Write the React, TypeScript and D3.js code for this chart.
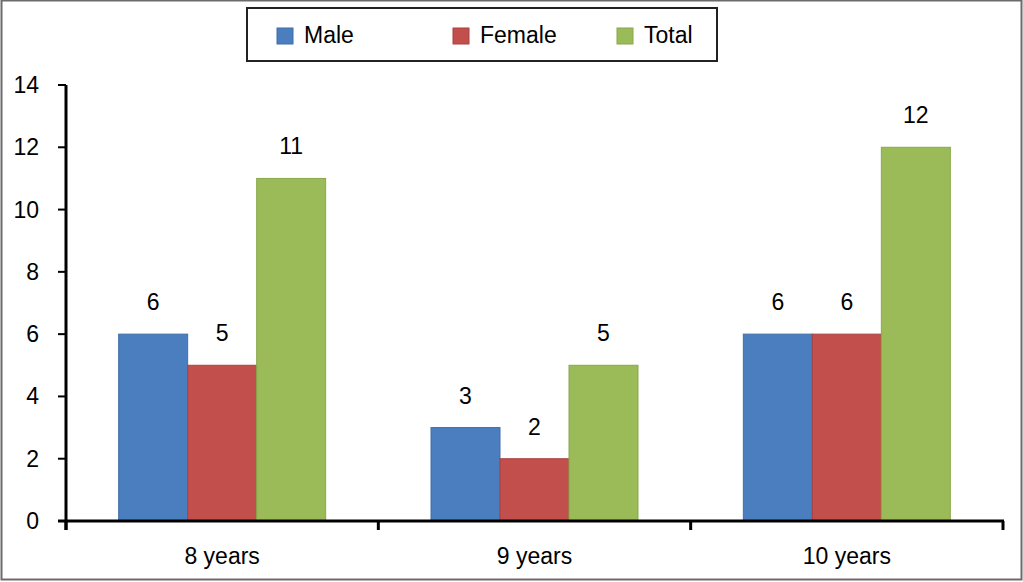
import React from "react"
import * as d3 from "d3"

const categories = ["8 years", "9 years", "10 years"]
const seriesNames = ["Male", "Female", "Total"]
const maleValues = [6, 3, 6]
const femaleValues = [5, 2, 6]
const totalValues = [11, 5, 12]
const yTicks = [0, 2, 4, 6, 8, 10, 12, 14]

const colors: Record<string, string> = {
  Male: "#4a7ebf",
  Female: "#c24f4c",
  Total: "#9bbb59",
}
const strokes: Record<string, string> = {
  Male: "#3f6fa9",
  Female: "#a8433f",
  Total: "#89a84c",
}

const W = 1023
const H = 582
const FONT = "'Liberation Sans', Arial, Helvetica, sans-serif"

const App: React.FC = () => {
  const left = 66
  const right = 1003
  const top = 85
  const bottom = 521

  const x = d3.scaleBand<string>().domain(categories).range([left, right])
  const inner = d3.scaleBand<string>().domain(seriesNames).range([0, 207])
  const y = d3.scaleLinear().domain([0, 14]).range([bottom, top])

  const valuesBySeries: Record<string, number[]> = {
    Male: maleValues,
    Female: femaleValues,
    Total: totalValues,
  }

  const groupOffset = (x.bandwidth() - 207) / 2

  // legend layout
  const legendItems = [
    { name: "Male", x: 277 },
    { name: "Female", x: 453 },
    { name: "Total", x: 617 },
  ]

  return (
    <svg
      width={W}
      height={H}
      style={{ position: "absolute", left: 0, top: 0, display: "block", background: "#fff" }}
      fontFamily={FONT}
    >
      {/* outer frame */}
      <rect x={1.5} y={0.5} width={W - 3} height={H - 3} fill="none" stroke="#6b6b6b" strokeWidth={2} />

      {/* legend */}
      <rect x={247} y={8} width={470} height={53} fill="#fff" stroke="#222" strokeWidth={2} />
      {legendItems.map((d) => (
        <g key={d.name}>
          <rect x={d.x} y={28} width={16} height={16} fill={colors[d.name]} stroke={strokes[d.name]} strokeWidth={1} />
          <text x={d.x + 27} y={43} fontSize={23} fill="#000">
            {d.name}
          </text>
        </g>
      ))}

      {/* bars */}
      {categories.map((c, ci) => (
        <g key={c} transform={`translate(${(x(c) ?? 0) + groupOffset},0)`}>
          {seriesNames.map((s) => {
            const v = valuesBySeries[s][ci]
            const bx = inner(s) ?? 0
            return (
              <g key={s}>
                <rect
                  x={bx}
                  y={y(v)}
                  width={inner.bandwidth()}
                  height={bottom - y(v)}
                  fill={colors[s]}
                  stroke={strokes[s]}
                  strokeWidth={1}
                />
                <text
                  x={bx + inner.bandwidth() / 2}
                  y={y(v) - 24}
                  textAnchor="middle"
                  fontSize={23}
                  fill="#000"
                >
                  {v}
                </text>
              </g>
            )
          })}
        </g>
      ))}

      {/* y axis */}
      <line x1={left} x2={left} y1={top} y2={bottom + 9} stroke="#000" strokeWidth={3} />
      {yTicks.map((t) => (
        <g key={t}>
          <line x1={left - 8} x2={left} y1={y(t)} y2={y(t)} stroke="#000" strokeWidth={2} />
          <text x={39} y={y(t) + 8} textAnchor="end" fontSize={23} fill="#000">
            {t}
          </text>
        </g>
      ))}

      {/* x axis */}
      <line x1={left - 8} x2={right + 1} y1={bottom} y2={bottom} stroke="#000" strokeWidth={3} />
      {[...categories.map((c) => x(c) ?? 0), right].map((tx, i) => (
        <line key={i} x1={tx} x2={tx} y1={bottom} y2={bottom + 9} stroke="#000" strokeWidth={3} />
      ))}
      {categories.map((c) => (
        <text
          key={c}
          x={(x(c) ?? 0) + x.bandwidth() / 2}
          y={564}
          textAnchor="middle"
          fontSize={23}
          fill="#000"
        >
          {c}
        </text>
      ))}
    </svg>
  )
}

export default App
